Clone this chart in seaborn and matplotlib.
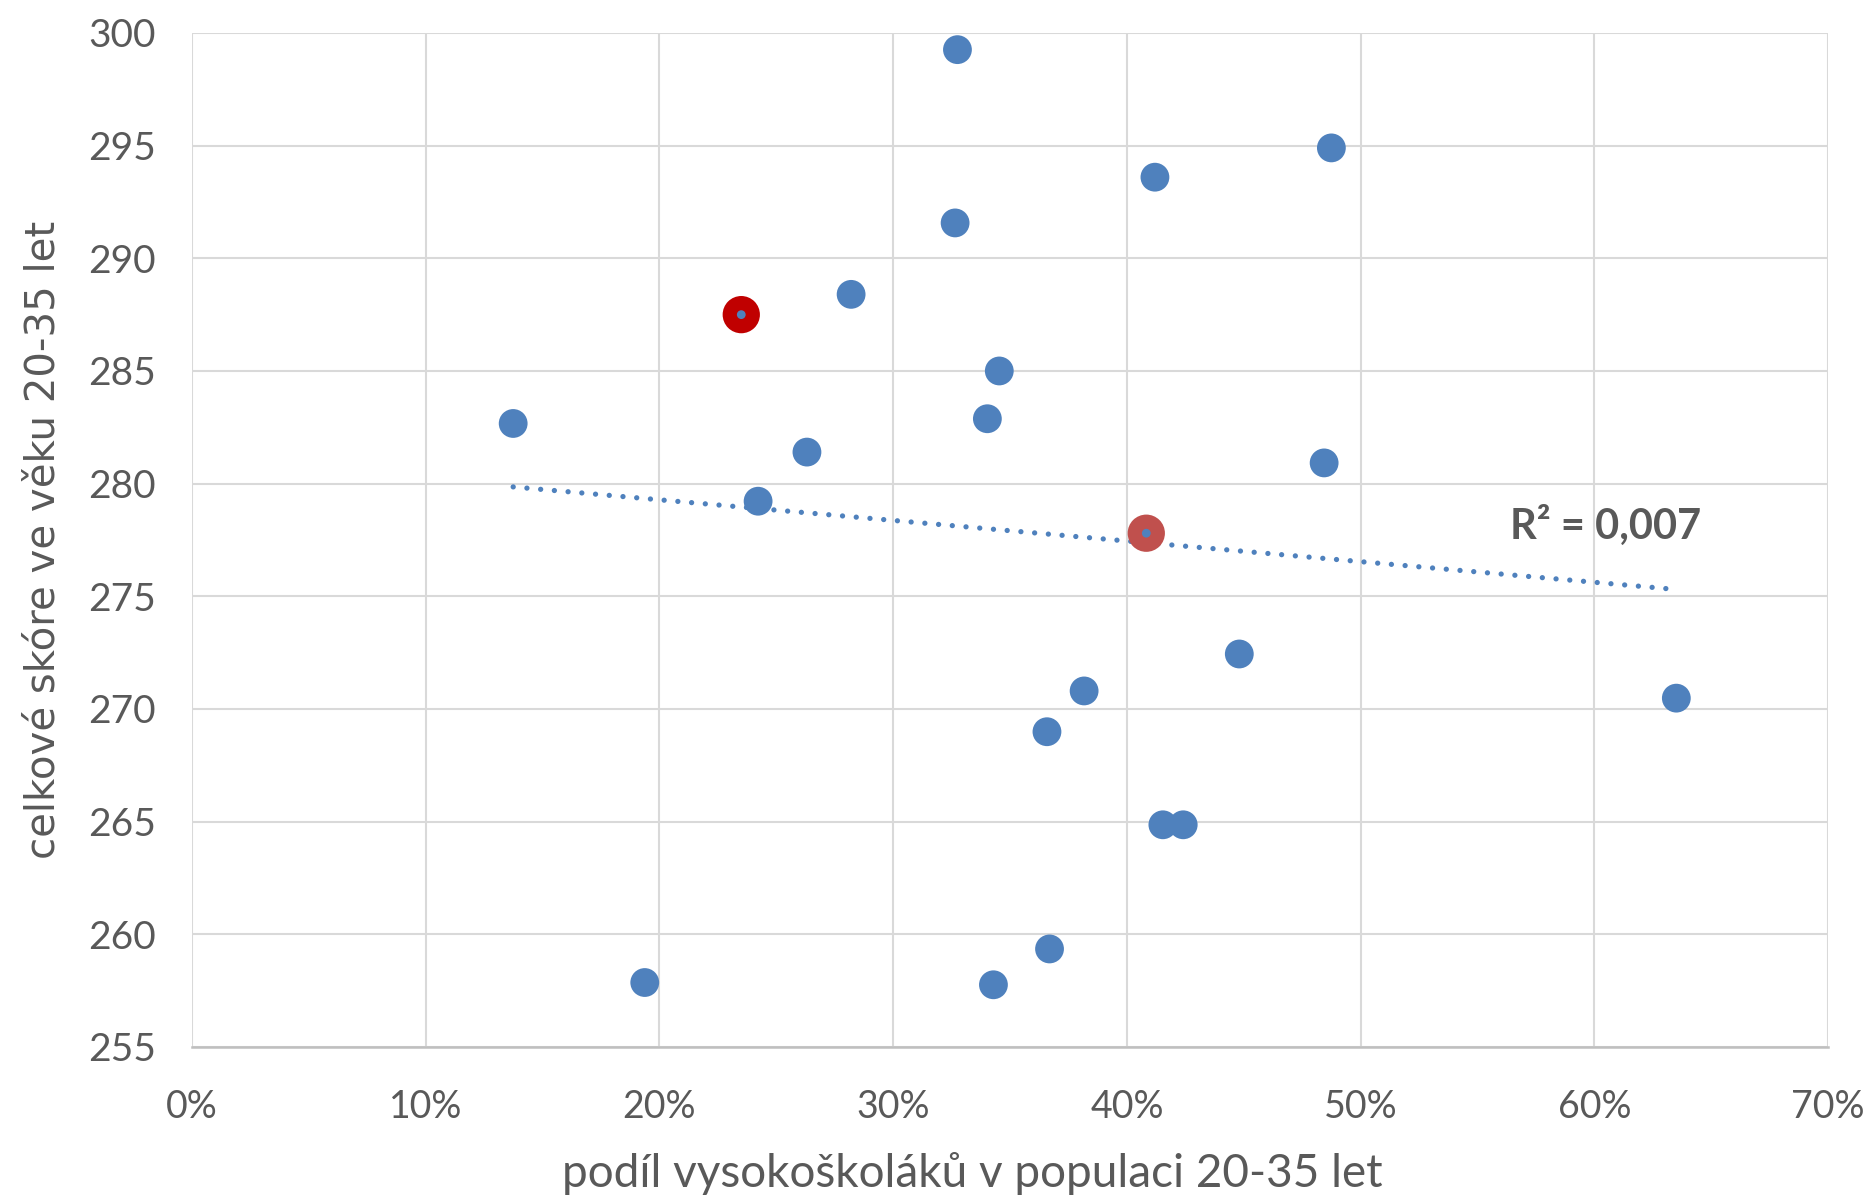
import matplotlib
matplotlib.use("Agg")
import matplotlib.pyplot as plt
from matplotlib.ticker import PercentFormatter
import seaborn as sns
import pandas as pd

# data: share of university graduates (fraction) vs total score
share = [0.3275, 0.4875, 0.4120, 0.3265, 0.2820, 0.2350, 0.3454, 0.1374,
         0.3403, 0.2631, 0.4844, 0.2422, 0.4083, 0.4481, 0.3817, 0.6351,
         0.3658, 0.4154, 0.4241, 0.3669, 0.1937, 0.3429]
score = [299.26, 294.90, 293.60, 291.57, 288.40, 287.50, 285.00, 282.67,
         282.88, 281.40, 280.92, 279.22, 277.80, 272.44, 270.80, 270.48,
         268.99, 264.86, 264.86, 259.35, 257.86, 257.76]

hl_share = [0.2350, 0.4083]
hl_score = [287.50, 277.80]
hl_colors = ["#C00000", "#C0504D"]

x_ticks = [0.0, 0.1, 0.2, 0.3, 0.4, 0.5, 0.6, 0.7]
y_ticks = [255, 260, 265, 270, 275, 280, 285, 290, 295, 300]
r2_label = "R² = 0,007"
x_label = "podíl vysokoškoláků v populaci 20-35 let"
y_label = "celkové skóre ve věku 20-35 let"

df = pd.DataFrame({"share": share, "score": score})
hl = pd.DataFrame({"share": hl_share, "score": hl_score, "c": hl_colors})

sns.set_theme(style="white")
plt.rcParams["font.family"] = ["Lato", "DejaVu Sans"]

BLUE = "#4F81BD"
GRID = "#D9D9D9"
TXT = "#595959"

fig = plt.figure(figsize=(18.72, 11.99), dpi=100)
ax = fig.add_axes([0.1026, 0.1268, 0.8739, 0.8457])

sns.regplot(data=df, x="share", y="score", scatter=False, ci=None, truncate=True,
            ax=ax, color=BLUE,
            line_kws=dict(lw=3.8, linestyle=(0, (0.01, 2.6)),
                          dash_capstyle="round", zorder=3))

sns.scatterplot(data=df, x="share", y="score", ax=ax, color=BLUE, s=430,
                edgecolor="none", linewidth=0, zorder=4, legend=False)

sns.scatterplot(data=hl, x="share", y="score", ax=ax, hue="c",
                palette={c: c for c in hl_colors}, s=720, edgecolor="none",
                linewidth=0, zorder=5, legend=False)
sns.scatterplot(data=hl, x="share", y="score", ax=ax, color=BLUE, s=40,
                edgecolor="none", linewidth=0, zorder=6, legend=False)

ax.set_xlim(x_ticks[0], x_ticks[-1])
ax.set_ylim(y_ticks[0], y_ticks[-1])
ax.set_xticks(x_ticks)
ax.set_yticks(y_ticks)
ax.xaxis.set_major_formatter(PercentFormatter(1.0, decimals=0))

ax.grid(True, color=GRID, lw=1.5)
ax.set_axisbelow(True)
for s in ["top", "right", "left"]:
    ax.spines[s].set_visible(False)
ax.spines["bottom"].set_color("#BFBFBF")
ax.spines["bottom"].set_linewidth(1.8)

ax.tick_params(axis="x", which="both", length=0, labelsize=27, colors=TXT, pad=30)
ax.tick_params(axis="y", which="both", length=0, labelsize=28, colors=TXT, pad=26)

ax.set_xlabel(x_label, fontsize=33, color=TXT, labelpad=20)
ax.xaxis.label.set_x(0.477)
ax.set_ylabel(y_label, fontsize=29, color=TXT, labelpad=18,
              family=["DejaVu Sans"])

ax.text(0.564, 278.15, r2_label, fontsize=30, color=TXT, fontweight="bold",
        ha="left", va="center")

fig.savefig("out.png", dpi=100)
